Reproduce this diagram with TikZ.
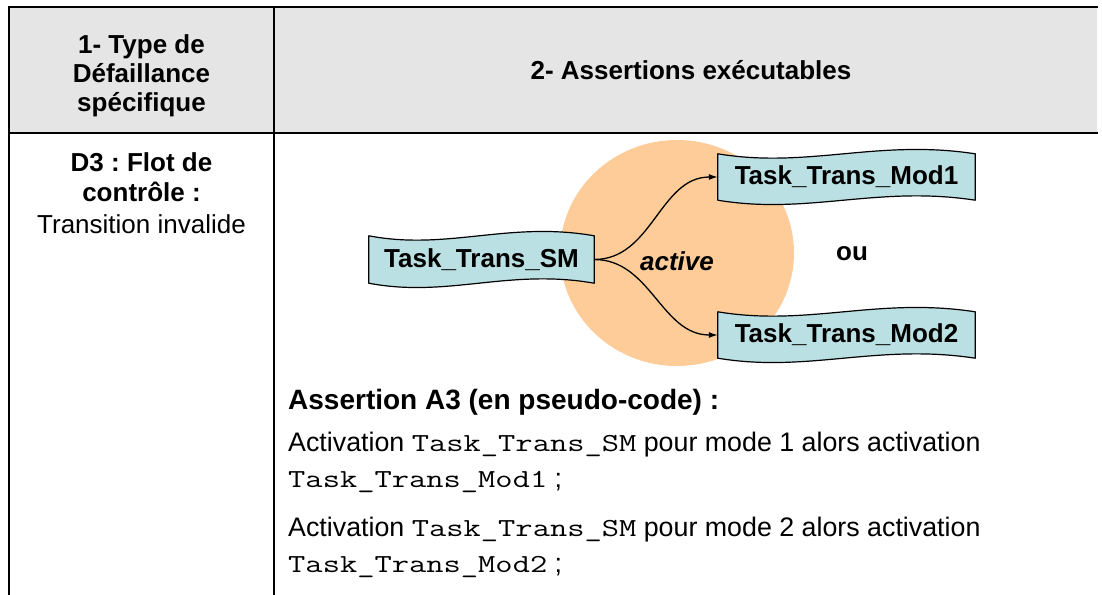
\documentclass[tikz,border=0pt]{standalone}
\usepackage{fontspec}
\usepackage{graphicx}
\setmainfont{Liberation Sans}
\usetikzlibrary{arrows.meta,calc}
\frenchspacing
\definecolor{headgray}{RGB}{229,229,229}
\definecolor{peach}{RGB}{253,204,153}
\definecolor{tapecyan}{RGB}{187,224,227}
\newcommand{\cw}[1]{\scalebox{1.29}[1]{\fontsize{26}{30}\selectfont\ttfamily #1}}
\tikzset{
  rule/.style={line width=2pt, line cap=rect},
  headtext/.style={font=\fontsize{26}{29}\selectfont\bfseries, align=center, inner sep=0pt},
  celltext/.style={font=\fontsize{26}{30}\selectfont, align=center, inner sep=0pt},
  tapenode/.style={font=\fontsize{26}{30}\selectfont\bfseries, inner sep=0pt},
  tapeshape/.style={fill=tapecyan, draw=black, line width=1.2pt, line join=round},
  conn/.style={line width=1.3pt, -{Latex[length=9pt,width=6pt]}},
  bodytext/.style={font=\fontsize{26.8}{32}\selectfont, inner sep=0pt, anchor=base west},
}
\newcommand{\wavebox}[1]{%
  \draw[tapeshape]
    (#1.north west)
      .. controls ($(#1.north west)!0.35!(#1.north east)+(0,15)$) and ($(#1.north west)!0.62!(#1.north east)+(0,-15)$) .. (#1.north east)
    -- (#1.south east)
      .. controls ($(#1.south west)!0.62!(#1.south east)+(0,-15)$) and ($(#1.south west)!0.35!(#1.south east)+(0,15)$) .. (#1.south west)
    -- cycle;}
\begin{document}
\begin{tikzpicture}[x=1pt,y=-1pt]
\useasboundingbox (0,0) rectangle (1102,594);
% header
\fill[headgray] (9,7) rectangle (1097,133);
\draw[rule] (1097,7) -- (9,7) -- (9,594);
\draw[rule] (9,133) -- (1097,133);
\draw[rule] (274,7) -- (274,594);
\node[headtext, anchor=north] (h1) at (141.5,34) {1- Type de\\Défaillance\\spécifique};
\node[headtext] (h2) at (691,70) {2- Assertions exécutables};
% first column
\node[celltext, anchor=north] (d3) at (141.5,152) {\bfseries D3 : Flot de\\\bfseries contrôle :\\[2pt]Transition invalide};
% diagram
\fill[peach] (677,253) ellipse [x radius=117pt, y radius=113pt];
\node[tapenode, minimum width=225pt, minimum height=47pt] (sm) at (481.5,259.5) {};
\node[tapenode, minimum width=257pt, minimum height=46pt] (m1) at (846.5,177) {};
\node[tapenode, minimum width=257pt, minimum height=46pt] (m2) at (846.5,335) {};
\draw[conn] (sm.east) to[out=0,in=180] (m1.west);
\draw[conn] (sm.east) to[out=0,in=180] (m2.west);
\wavebox{sm}
\wavebox{m1}
\wavebox{m2}
\node[tapenode] at (sm) {Task\_Trans\_SM};
\node[tapenode] at (m1) {Task\_Trans\_Mod1};
\node[tapenode] at (m2) {Task\_Trans\_Mod2};
\node[tapenode, font=\fontsize{26}{30}\selectfont\bfseries\itshape] (act) at (677,261) {active};
\node[tapenode] (ou) at (852,254) {ou};
% assertion text
\node[bodytext, font=\fontsize{28}{32}\selectfont\bfseries] (a3) at (288,409) {Assertion A3 (en pseudo-code) :};
\node[bodytext] (l1) at (288,451) {Activation \cw{Task\_Trans\_SM} pour mode 1 alors activation};
\node[bodytext] (l2) at (288,487) {\cw{Task\_Trans\_Mod1} ;};
\node[bodytext] (l3) at (288,536) {Activation \cw{Task\_Trans\_SM} pour mode 2 alors activation};
\node[bodytext] (l4) at (288,572) {\cw{Task\_Trans\_Mod2} ;};
\end{tikzpicture}
\end{document}
